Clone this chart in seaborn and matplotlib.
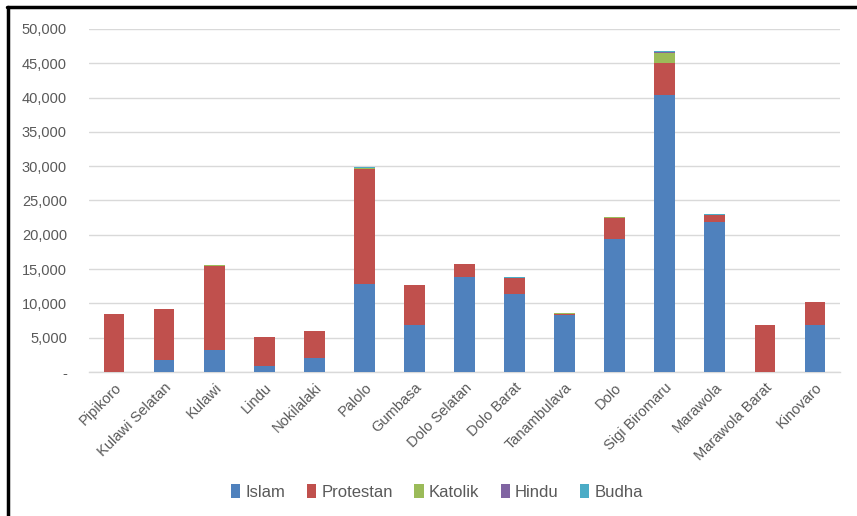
import numpy as np
import pandas as pd
import matplotlib
matplotlib.use("Agg")
import matplotlib.pyplot as plt
import seaborn as sns
from matplotlib.lines import Line2D
from matplotlib.patches import Patch
from matplotlib.ticker import FuncFormatter, MultipleLocator

kecamatan = ["Pipikoro", "Kulawi Selatan", "Kulawi", "Lindu", "Nokilalaki", "Palolo",
             "Gumbasa", "Dolo Selatan", "Dolo Barat", "Tanambulava", "Dolo",
             "Sigi Biromaru", "Marawola", "Marawola Barat", "Kinovaro"]
islam = [0, 1800, 3250, 830, 2090, 12870, 6900, 13900, 11330, 8310, 19390, 40430, 21870, 0, 6900]
protestan = [8500, 7380, 12160, 4230, 3890, 16730, 5740, 1890, 2420, 150, 3110, 4570, 1000, 6900, 3350]
katolik = [20, 10, 120, 60, 20, 100, 80, 10, 20, 100, 20, 1500, 60, 10, 10]
hindu = [0, 0, 0, 0, 0, 20, 0, 0, 0, 0, 0, 100, 0, 0, 0]
budha = [0, 0, 0, 0, 0, 200, 0, 10, 20, 0, 0, 200, 30, 0, 0]

series = ["Islam", "Protestan", "Katolik", "Hindu", "Budha"]
values = [islam, protestan, katolik, hindu, budha]
colors = ["#4F81BD", "#C0504D", "#9BBB59", "#8064A2", "#4BACC6"]

df = pd.DataFrame({"Kecamatan": kecamatan})
for s, v in zip(series, values):
    df[s] = v
cum = df[series].cumsum(axis=1)

sns.set_style("white")
plt.rcParams["font.family"] = ["Liberation Sans", "DejaVu Sans"]

fig = plt.figure(figsize=(8.57, 5.16), dpi=100)
ax = fig.add_axes([0.104, 0.279, 0.876, 0.665])

# draw stacked bars: top cumulative first, then lower layers on top
for s, c in reversed(list(zip(series, colors))):
    sns.barplot(x=df["Kecamatan"], y=cum[s], color=c, width=0.41,
                ax=ax, saturation=1, linewidth=0, zorder=3)

ax.set_ylim(0, 50000)
ax.set_xlim(-0.5, len(kecamatan) - 0.5)
ax.yaxis.set_major_locator(MultipleLocator(5000))
ax.yaxis.set_major_formatter(FuncFormatter(lambda v, p: "-" if v == 0 else f"{int(v):,}"))
ax.grid(axis="y", color="#D9D9D9", linewidth=1, zorder=0)
ax.set_axisbelow(True)
for sp in ["top", "right", "left"]:
    ax.spines[sp].set_visible(False)
ax.spines["bottom"].set_color("#D9D9D9")
ax.spines["bottom"].set_linewidth(1)
ax.set_xlabel("")
ax.set_ylabel("")
ax.tick_params(axis="both", length=0, colors="#595959", labelsize=10.5)
ax.tick_params(axis="y", pad=16)
ax.tick_params(axis="x", pad=6)
plt.setp(ax.get_xticklabels(), rotation=45, ha="right", rotation_mode="anchor")

handles = [Patch(facecolor=c, edgecolor="none") for c in colors]
fig.legend(handles, series, loc="center", bbox_to_anchor=(0.51, 0.047), ncol=5,
           frameon=False, fontsize=12, labelcolor="#595959",
           handlelength=0.55, handleheight=0.95, handletextpad=0.3, columnspacing=1.3)

# outer chart frame (left and top edges visible)
fig.add_artist(Line2D([0.009, 0.009], [0, 0.986], color="black", linewidth=2.5,
                      transform=fig.transFigure))
fig.add_artist(Line2D([0.008, 1.0], [0.986, 0.986], color="black", linewidth=2.5,
                      transform=fig.transFigure))

fig.savefig("out.png", dpi=100)
